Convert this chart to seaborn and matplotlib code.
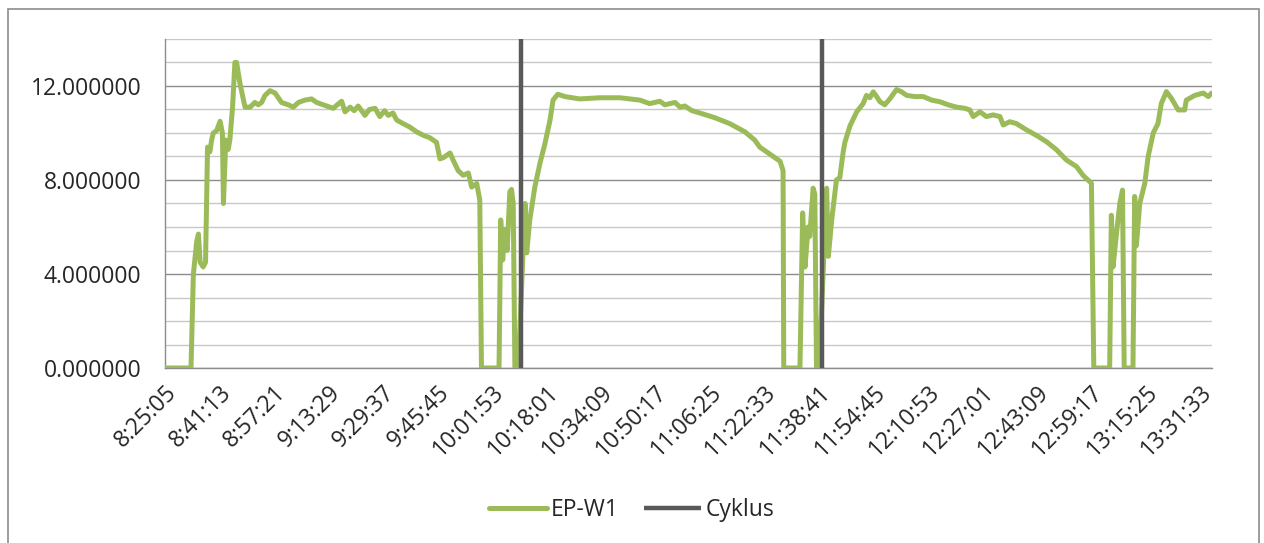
import matplotlib.pyplot as plt
import numpy as np
import pandas as pd
import seaborn as sns
from matplotlib.patches import Rectangle
from matplotlib.ticker import FuncFormatter, MultipleLocator

# elapsed minutes since 8:25:05 and the EP-W1 reading
EP_MIN = [
    0.0, 7.7, 8.4, 9.4, 9.9, 10.4, 11.3, 12.0, 12.6, 13.3, 13.8, 14.3, 15.3, 16.3,
    17.0, 17.3, 18.0, 18.7, 19.2, 20.0, 20.7, 21.2, 22.2, 23.7, 25.2, 26.6, 27.6,
    28.6, 29.6, 31.1, 32.6, 34.5, 36.5, 38.0, 39.5, 41.4, 43.4, 44.9, 46.9, 49.8,
    51.0, 52.3, 53.3, 54.8, 56.0, 57.2, 59.2, 60.5, 62.2, 63.6, 65.0, 66.1, 67.5,
    68.6, 70.5, 72.5, 74.5, 76.5,
    78.4, 80.4, 81.4, 82.4, 84.4, 85.3, 86.8, 88.3, 89.8, 90.8, 92.3, 93.2, 93.7,
    98.9, 99.4, 100.0, 100.6, 101.3, 102.1, 102.6, 103.1, 103.6, 104.6, 106.6,
    107.1, 108.0, 109.5, 111.0, 112.5, 114.0, 114.9, 116.3, 118.4, 122.8, 128.8,
    134.7, 140.6, 143.5, 146.5, 148.0, 151.0, 152.5, 153.9, 156.0, 158.4, 162.8,
    167.2, 171.7, 174.6, 176.1,
    178.1, 180.1, 182.1, 183.0, 183.2, 188.0, 188.8, 189.5, 190.4, 190.9, 191.9,
    192.4, 192.9, 193.7, 195.9, 196.4, 197.4, 198.8, 199.8, 200.8, 201.3, 202.8,
    204.8, 206.7, 207.7, 208.7, 209.7, 210.7, 211.7, 213.1, 214.6, 216.6, 218.1,
    219.6, 222.0, 224.5, 227.0, 229.4, 231.9, 234.4, 236.8, 238.3, 239.3, 241.3,
    243.2, 245.2, 247.2, 248.2, 250.1, 252.1, 255.1, 258.0, 261.0, 264.0, 266.9,
    269.9, 271.8, 274.3, 275.0, 279.7, 280.2, 280.7, 281.7, 282.7, 283.5, 284.0,
    286.6, 287.1, 287.6, 288.6, 290.1, 291.1, 292.6, 294.0, 295.0, 296.5, 298.0,
    300.0, 301.9, 302.4, 304.9, 307.4, 308.9, 309.9,
]
EP_VAL = [
    0, 0, 4.0, 5.4, 5.7, 4.5, 4.3, 4.5, 9.4, 9.2, 9.7, 10.0, 10.1, 10.5,
    10.0, 7.0, 9.7, 9.3, 9.7, 11.1, 13.0, 13.0, 12.1, 11.1, 11.1, 11.3, 11.2,
    11.3, 11.6, 11.8, 11.7, 11.3, 11.2, 11.1, 11.3, 11.4, 11.45, 11.3, 11.2, 11.05,
    11.2, 11.35, 10.9, 11.1, 10.95, 11.15, 10.75, 11.0, 11.05, 10.7, 10.95, 10.75, 10.85,
    10.55, 10.4, 10.25, 10.05, 9.9,
    9.8, 9.6, 8.9, 8.95, 9.15, 8.85, 8.4, 8.2, 8.3, 7.7, 7.85, 7.15, 0,
    0, 6.3, 4.6, 5.9, 5.0, 7.5, 7.6, 7.0, 0, 0, 7.0,
    4.9, 6.3, 7.7, 8.7, 9.55, 10.55, 11.4, 11.65, 11.55, 11.45, 11.5,
    11.5, 11.4, 11.25, 11.35, 11.2, 11.3, 11.1, 11.15, 10.95, 10.85, 10.65,
    10.4, 10.05, 9.7, 9.4,
    9.2, 9.0, 8.8, 8.4, 0, 0, 6.6, 4.3, 6.0, 5.6, 7.65,
    7.4, 0, 0, 7.65, 4.75, 6.3, 8.0, 8.1, 9.2, 9.6, 10.3,
    10.9, 11.25, 11.6, 11.5, 11.75, 11.55, 11.33, 11.2, 11.45, 11.85, 11.75,
    11.6, 11.55, 11.55, 11.4, 11.33, 11.2, 11.1, 11.05, 10.98, 10.7, 10.9,
    10.7, 10.77, 10.7, 10.34, 10.48, 10.4, 10.13, 9.9, 9.63, 9.28, 8.85,
    8.57, 8.2, 7.86, 0, 0, 6.5, 4.3, 5.7, 7.0, 7.57, 0,
    0, 7.3, 5.2, 7.0, 7.86, 9.0, 10.0, 10.4, 11.26, 11.76, 11.47,
    10.98, 10.98, 11.4, 11.6, 11.7, 11.55, 11.7,
]
CYKLUS_MIN = [105.4, 194.6]

TICK_LABELS = [
    "8:25:05", "8:41:13", "8:57:21", "9:13:29", "9:29:37", "9:45:45", "10:01:53",
    "10:18:01", "10:34:09", "10:50:17", "11:06:25", "11:22:33", "11:38:41",
    "11:54:45", "12:10:53", "12:27:01", "12:43:09", "12:59:17", "13:15:25", "13:31:33",
]
TICK_STEP_MIN = 968 / 60

GREEN = "#9BBB59"
DARK = "#595959"

sns.set_theme(style="white")
plt.rcParams["font.family"] = ["Open Sans", "DejaVu Sans"]

df = pd.DataFrame({"t": EP_MIN, "v": EP_VAL})

fig = plt.figure(figsize=(12.64, 5.43), dpi=100)
ax = fig.add_axes([165 / 1264, 175 / 543, (1212 - 165) / 1264, (368 - 39) / 543])

sns.lineplot(data=df, x="t", y="v", ax=ax, color=GREEN, lw=3.6, sort=False,
             estimator=None, label="EP-W1", zorder=3)
ax.vlines(CYKLUS_MIN, 0, 14, color=DARK, lw=3.2, label="Cyklus", zorder=4)

ax.set_xlim(0, 310)
ax.set_ylim(0, 14)
ax.yaxis.set_major_locator(MultipleLocator(4))
ax.yaxis.set_minor_locator(MultipleLocator(1))
ax.yaxis.set_major_formatter(FuncFormatter(lambda v, _: f"{v:.6f}"))
ax.grid(axis="y", which="minor", color="#C8C8C8", lw=1)
ax.grid(axis="y", which="major", color="#8C8C8C", lw=1)
ax.set_axisbelow(True)

ax.set_xticks(np.arange(len(TICK_LABELS)) * TICK_STEP_MIN)
ax.set_xticklabels(TICK_LABELS, rotation=45, ha="right", rotation_mode="anchor")
ax.tick_params(axis="both", which="both", length=0, labelsize=16.5, colors="#262626")
ax.tick_params(axis="x", pad=9)
ax.tick_params(axis="y", pad=17)
ax.set_xlabel("")
ax.set_ylabel("")

for side in ["top", "right"]:
    ax.spines[side].set_visible(False)
for side in ["left", "bottom"]:
    ax.spines[side].set_color("#8C8C8C")
    ax.spines[side].set_linewidth(1)

leg = ax.legend(loc="center", bbox_to_anchor=(0.5, 33 / 543), bbox_transform=fig.transFigure,
                ncol=2, frameon=False, fontsize=16.5, handlelength=2.5, handletextpad=0.2,
                columnspacing=1.1)
for text in leg.get_texts():
    text.set_color("#262626")

fig.patches.append(Rectangle((8 / 1264, -0.05), (1259 - 8) / 1264, 1.05 - 9 / 543,
                             transform=fig.transFigure, fill=False,
                             edgecolor="#8C8C8C", lw=1.2))

fig.savefig("out.png", dpi=100)
